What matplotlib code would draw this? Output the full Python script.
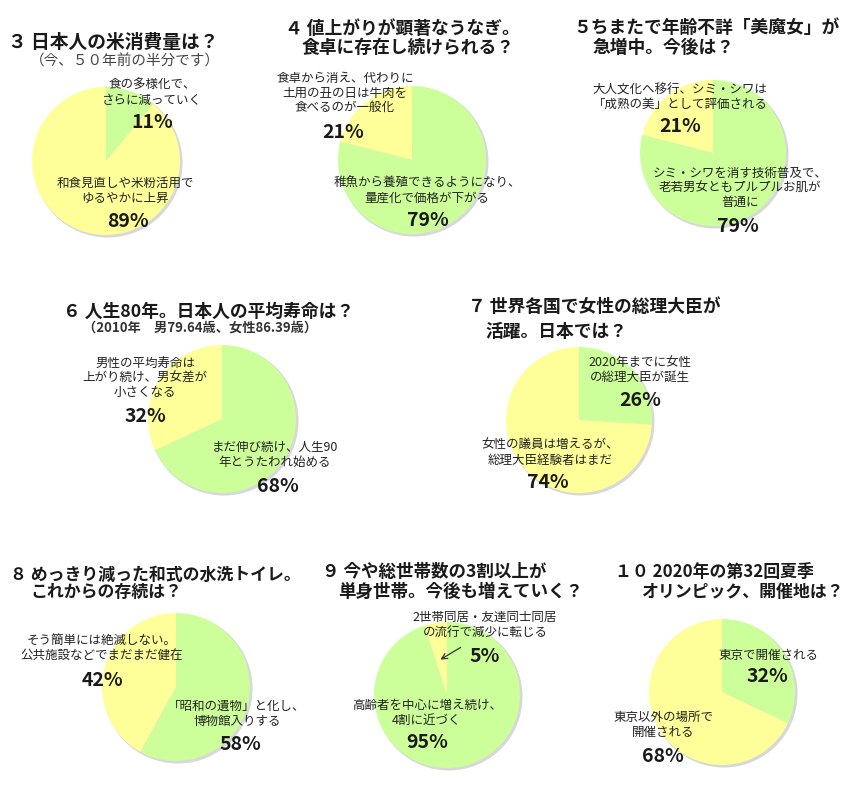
import matplotlib
matplotlib.use("Agg")
import matplotlib.pyplot as plt
from matplotlib.patches import Circle

plt.rcParams['font.family'] = ['Noto Sans CJK JP', 'DejaVu Sans']

W, H = 857, 787
GREEN = "#ccff99"
YELLOW = "#ffff99"

# data: (values clockwise from 12 o'clock, colors)
q3_vals = [11, 89]
q3_cols = [GREEN, YELLOW]
q4_vals = [79, 21]
q4_cols = [GREEN, YELLOW]
q5_vals = [79, 21]
q5_cols = [GREEN, YELLOW]
q6_vals = [68, 32]
q6_cols = [GREEN, YELLOW]
q7_vals = [26, 74]
q7_cols = [GREEN, YELLOW]
q8_vals = [58, 42]
q8_cols = [GREEN, YELLOW]
q9_vals = [95, 5]
q9_cols = [GREEN, YELLOW]
q10_vals = [32, 68]
q10_cols = [GREEN, YELLOW]

fig = plt.figure(figsize=(W / 100, H / 100), dpi=100)
fig.patch.set_facecolor("white")


def pie_at(cx, cy, r, vals, cols):
    ax = fig.add_axes([(cx - r - 4) / W, 1 - (cy + r + 4) / H, (2 * r + 8) / W, (2 * r + 8) / H])
    # soft shadow rim
    ax.add_patch(Circle((0.025, -0.025), 1.0, color="#d8d8d8", zorder=0))
    ax.pie(vals, colors=cols, startangle=90, counterclock=False,
           wedgeprops=dict(linewidth=0))
    lim = 1 + 4 / r
    ax.set_xlim(-lim, lim)
    ax.set_ylim(-lim, lim)
    ax.set_aspect("equal")
    ax.axis("off")
    return ax


def txt(x, y, s, size=9, bold=False, ha="center", color="#222222"):
    fig.text(x / W, 1 - y / H, s, fontsize=size, ha=ha, va="center",
             fontweight="bold" if bold else "normal", color=color, linespacing=1.15)


def pct(x, y, s):
    txt(x, y, s, size=14, bold=True, color="#1a1a1a")


def title(x, y, s, size=12.8):
    txt(x, y, s, size=size, bold=True, ha="left", color="#1a1a1a")


pie_at(106, 161, 74, q3_vals, q3_cols)
pie_at(412, 160, 74, q4_vals, q4_cols)
pie_at(713, 153, 73, q5_vals, q5_cols)
pie_at(222, 419, 74, q6_vals, q6_cols)
pie_at(579, 420, 73, q7_vals, q7_cols)
pie_at(176, 687, 74, q8_vals, q8_cols)
pie_at(447, 695, 73, q9_vals, q9_cols)
pie_at(722, 692, 73, q10_vals, q10_cols)

# ---- titles
title(8, 42, "３ 日本人の米消費量は？", size=13.5)
txt(30, 61, "（今、５０年前の半分です）", size=10.5, ha="left", color="#444444")

title(285, 29, "４ 値上がりが顕著なうなぎ。")
title(302, 48, "食卓に存在し続けられる？")

title(573, 28, "５ちまたで年齢不詳「美魔女」が")
title(592, 48, "急増中。今後は？")

title(63, 312, "６ 人生80年。日本人の平均寿命は？")
txt(83, 328, "（2010年　男79.64歳、女性86.39歳）", size=9.5, bold=True, ha="left", color="#333333")

title(468, 307, "７ 世界各国で女性の総理大臣が")
title(485, 332, "活躍。日本では？")

title(10, 575, "８ めっきり減った和式の水洗トイレ。", size=12.2)
title(30, 592, "これからの存続は？", size=12.2)

title(322, 572, "９ 今や総世帯数の3割以上が", size=12.6)
title(338, 592, "単身世帯。今後も増えていく？", size=12.6)

title(615, 572, "１０ 2020年の第32回夏季", size=12.2)
title(642, 592, "オリンピック、開催地は？", size=12.2)

# ---- slice labels
txt(152, 93, "食の多様化で、\nさらに減っていく")
pct(152, 123, "11%")
txt(125, 191, "和食見直しや米粉活用で\nゆるやかに上昇")
pct(128, 222, "89%")

txt(345, 93, "食卓から消え、代わりに\n土用の丑の日は牛肉を\n食べるのが一般化")
pct(343, 132, "21%")
txt(427, 191, "稚魚から養殖できるようになり、\n量産化で価格が下がる")
pct(428, 220, "79%")

txt(680, 97, "大人文化へ移行、シミ・シワは\n「成熟の美」として評価される")
pct(680, 127, "21%")
txt(740, 188, "シミ・シワを消す技術普及で、\n老若男女ともプルプルお肌が\n普通に")
pct(738, 227, "79%")

txt(145, 378, "男性の平均寿命は\n上がり続け、男女差が\n小さくなる")
pct(145, 417, "32%")
txt(275, 455, "まだ伸び続け、人生90\n年とうたわれ始める")
pct(278, 487, "68%")

txt(640, 370, "2020年までに女性\nの総理大臣が誕生")
pct(640, 400, "26%")
txt(550, 453, "女性の議員は増えるが、\n総理大臣経験者はまだ")
pct(548, 483, "74%")

txt(102, 648, "そう簡単には絶滅しない。\n公共施設などでまだまだ健在")
pct(102, 680, "42%")
txt(237, 714, "「昭和の遺物」と化し、\n博物館入りする")
pct(240, 745, "58%")

txt(485, 625, "2世帯同居・友達同士同居\nの流行で減少に転じる")
pct(485, 657, "5%")
fig.add_artist(plt.Annotation("", xy=(438 / W, 1 - 661 / H), xytext=(463 / W, 1 - 646 / H),
                              xycoords="figure fraction", textcoords="figure fraction",
                              arrowprops=dict(arrowstyle="->", color="#333333", lw=0.9)))
txt(427, 713, "高齢者を中心に増え続け、\n4割に近づく")
pct(427, 743, "95%")

txt(768, 655, "東京で開催される")
pct(767, 677, "32%")
txt(663, 725, "東京以外の場所で\n開催される")
pct(663, 757, "68%")

fig.savefig("out.png", dpi=100)
